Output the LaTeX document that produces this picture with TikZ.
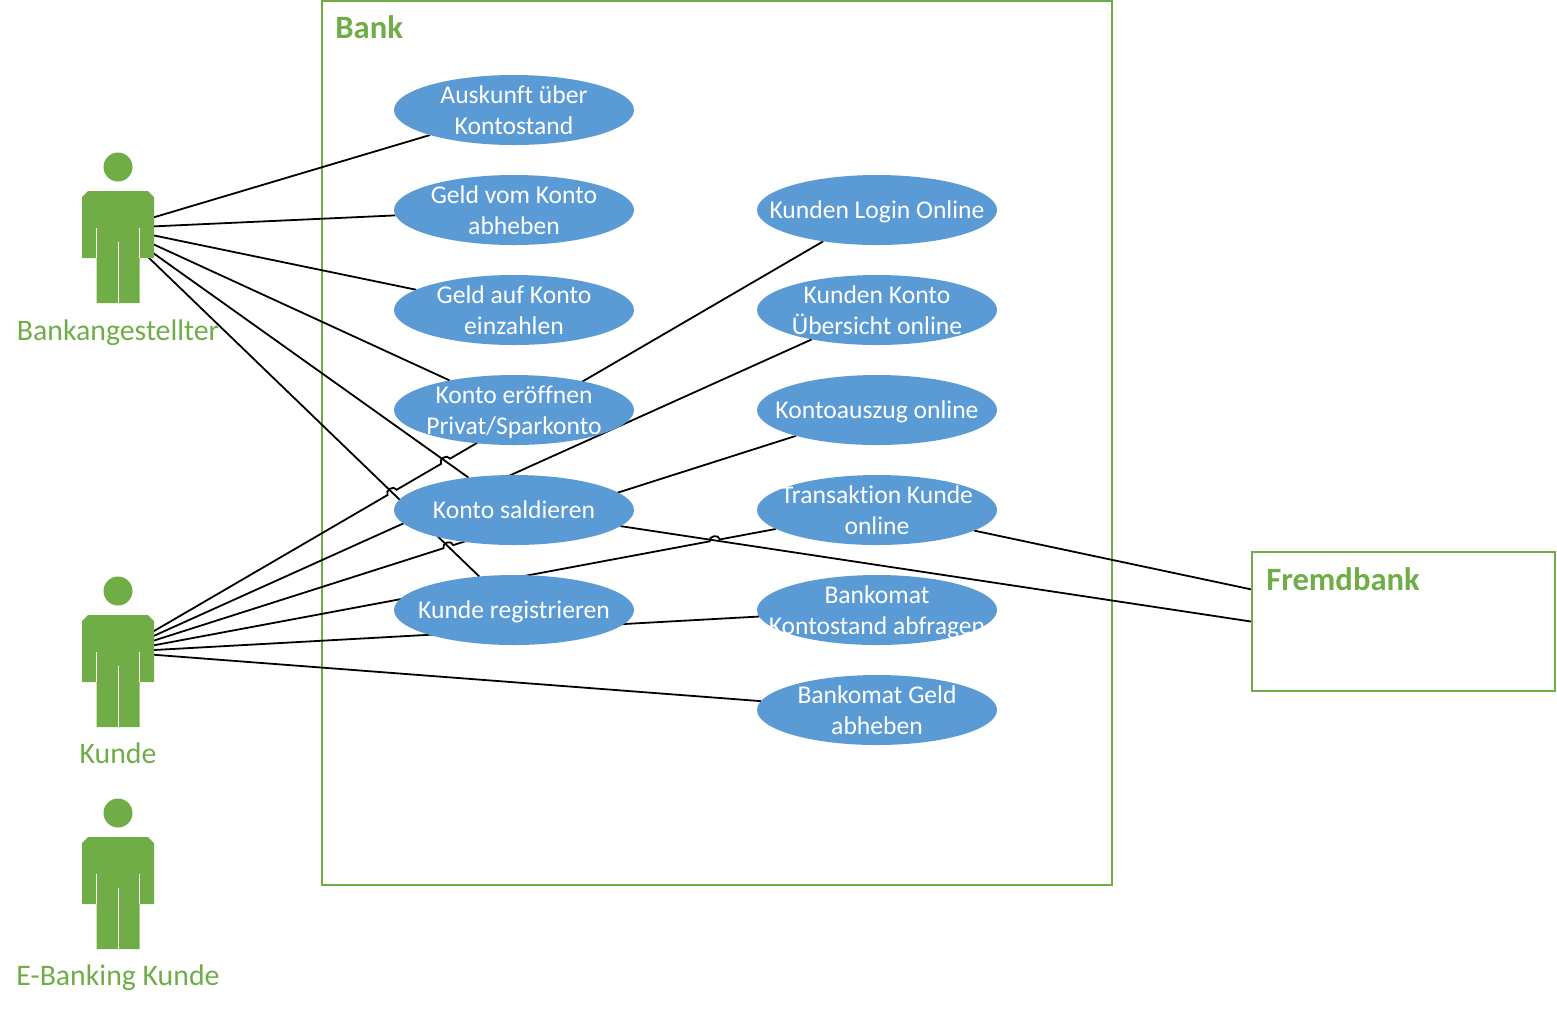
\documentclass[tikz,border=0pt]{standalone}
\usepackage{fontspec}
\setmainfont[Ligatures=NoCommon]{Carlito}
\usepackage{xcolor}
\usetikzlibrary{positioning,calc,backgrounds,shapes.geometric}
\definecolor{casefill}{HTML}{5B9BD5}
\definecolor{bankgreen}{HTML}{70AD47}

% small jump over a crossing line: #1 crossing, #2 start of the line
\newcommand{\hop}[2]{-- ($(#1)!2.6pt!(#2)$) to[bend left=90, looseness=1.4] ($(#1)!-2.6pt!(#2)$)}

\tikzset{
  actor/.pic={
    \fill[bankgreen] (0,-61) circle (14.5);
    \fill[bankgreen] (-30,-37) -- (30,-37) -- (36,-31) -- (36,30) -- (21.5,30)
      -- (21.5,75) -- (-21.5,75) -- (-21.5,30) -- (-36,30) -- (-36,-31) -- cycle;
    \draw[white, line width=0.5pt] (-21.5,0) -- (-21.5,30) (21.5,0) -- (21.5,30) (0,14) -- (0,75);
  }
}

\begin{document}
\begin{tikzpicture}[x=0.5pt, y=-0.5pt, node distance=15pt, font=\fontsize{12.8pt}{15.3pt}\selectfont]
\tikzstyle{usecase}=[ellipse, fill=casefill, inner sep=0pt, outer sep=0pt, minimum width=120pt, minimum height=35pt,
  label={[text=white, align=center, text depth=0pt]center:#1}]
\tikzstyle{frame}=[draw=bankgreen, line width=1.1pt, inner sep=0pt]
\tikzstyle{title}=[text=bankgreen, font=\fontsize{16.3pt}{19pt}\selectfont\bfseries, anchor=west, inner sep=0pt]
\tikzstyle{actorname}=[text=bankgreen, font=\fontsize{14.9pt}{18pt}\selectfont]
\tikzstyle{link}=[draw=black, line width=0.9pt]

\useasboundingbox (0,0) rectangle (1557,1008);

\node[usecase={Auskunft über\\Kontostand}] (auskunft) at (514,110) {};
\node[usecase={Geld vom Konto\\abheben}, below=of auskunft] (abheben) {};
\node[usecase={Geld auf Konto\\einzahlen}, below=of abheben] (einzahlen) {};
\node[usecase={Konto eröffnen\\Privat/Sparkonto}, below=of einzahlen] (eroeffnen) {};
\node[usecase={Konto saldieren}, below=of eroeffnen] (saldieren) {};
\node[usecase={Kunde registrieren}, below=of saldieren] (registrieren) {};

\node[usecase={Kunden Login Online}, right=61.5pt of abheben] (login) {};
\node[usecase={Kunden Konto\\Übersicht online}, below=of login] (uebersicht) {};
\node[usecase={Kontoauszug online}, below=of uebersicht] (auszug) {};
\node[usecase={Transaktion Kunde\\online}, below=of auszug] (transaktion) {};
\node[usecase={Bankomat\\Kontostand abfragen}, below=of transaktion] (kontostand) {};
\node[usecase={Bankomat Geld\\abheben}, below=of kontostand] (bankomat) {};

\node[frame, minimum width=151.5pt, minimum height=69.5pt] (fremdbank) at (1403.5,621.5) {};
\node[title] (fremdtitle) at (1266,579) {Fremdbank};
\node[title] (banktitle) at (335,27) {Bank};

\coordinate (bankang) at (118,228);
\coordinate (kunde) at (118,652);
\coordinate (ebanking) at (118,874);
\pic at (bankang) {actor};
\pic at (kunde) {actor};
\pic at (ebanking) {actor};
\node[actorname] (bankangname) at (118,333) {Bankangestellter};
\node[actorname] (kundename) at (118,753) {Kunde};
\node[actorname] (ebankingname) at (118,978) {E-Banking Kunde};

\coordinate (hopa) at (intersection of kunde--login.center and bankang--saldieren.center);
\coordinate (hopb) at (intersection of kunde--login.center and bankang--registrieren.center);
\coordinate (hopc) at (intersection of kunde--auszug.center and bankang--registrieren.center);
\coordinate (hopd) at (intersection of kunde--transaktion.center and saldieren.center--fremdbank.west);

\begin{scope}[on background layer]
\node[frame, minimum width=395pt, minimum height=442pt] (bank) at (717,443) {};

\draw[link] (bankang) -- (auskunft);
\draw[link] (bankang) -- (abheben);
\draw[link] (bankang) -- (einzahlen);
\draw[link] (bankang) -- (eroeffnen);
\draw[link] (bankang) -- (saldieren);
\draw[link] (bankang) -- (registrieren);

\draw[link] (kunde) \hop{hopb}{kunde} \hop{hopa}{kunde} -- (login);
\draw[link] (kunde) -- (uebersicht);
\draw[link] (kunde) \hop{hopc}{kunde} -- (auszug);
\draw[link] (kunde) \hop{hopd}{kunde} -- (transaktion);
\draw[link] (kunde) -- (kontostand);
\draw[link] (kunde) -- (bankomat);

\draw[link] (saldieren) -- (fremdbank.west);
\draw[link] (transaktion) -- (fremdbank);
\end{scope}
\end{tikzpicture}
\end{document}
